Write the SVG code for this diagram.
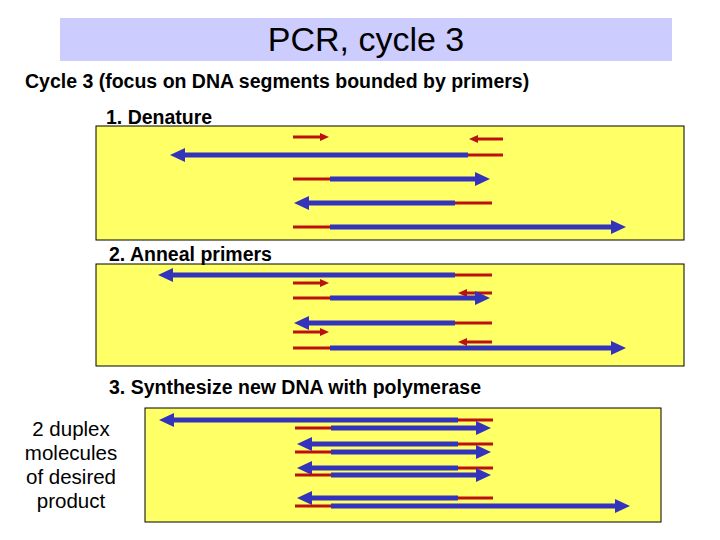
<svg xmlns="http://www.w3.org/2000/svg" width="720" height="540" viewBox="0 0 720 540">
<style>
text{font-family:"Liberation Sans",Arial,sans-serif;fill:#000}
.b{stroke:#3333bb;stroke-width:5;fill:none}
.r{stroke:#bb1111;stroke-width:3;fill:none}
.ba{marker-end:url(#hb)}
.ra{marker-end:url(#hr)}
.panel{fill:#ffff66;stroke:#000;stroke-width:1}
.lbl{font-size:19.5px;font-weight:bold}
</style>
<defs>
<marker id="hb" markerUnits="userSpaceOnUse" markerWidth="16" markerHeight="16" refX="2" refY="8" orient="auto" viewBox="0 0 16 16"><path d="M0,1 L15,8 L0,15 Z" fill="#3333bb"/></marker>
<marker id="hr" markerUnits="userSpaceOnUse" markerWidth="10" markerHeight="8" refX="2" refY="4" orient="auto" viewBox="0 0 10 8"><path d="M0,0 L9,4 L0,8 Z" fill="#bb1111"/></marker>
</defs>
<rect x="0" y="0" width="720" height="540" fill="#fff"/>
<g id="title"><rect x="60" y="18" width="612" height="43" fill="#ccccff"/><text x="366" y="51" font-size="34" text-anchor="middle">PCR, cycle 3</text></g>
<text x="25" y="88" class="lbl">Cycle 3 (focus on DNA segments bounded by primers)</text>
<g id="panel1"><rect class="panel" x="96" y="126" width="588" height="114"/><text x="106" y="124" class="lbl">1. Denature</text></g>
<g id="panel2"><rect class="panel" x="96" y="264" width="588" height="102"/><text x="109" y="261" class="lbl">2. Anneal primers</text></g>
<g id="panel3"><rect class="panel" x="145" y="408" width="516" height="114"/><text x="109" y="394" class="lbl">3. Synthesize new DNA with polymerase</text></g>
<g id="note"><text font-size="20.5" text-anchor="middle"><tspan x="71" y="436">2 duplex</tspan><tspan x="71" y="460">molecules</tspan><tspan x="71" y="484">of desired</tspan><tspan x="71" y="508">product</tspan></text></g>
<g id="connectors">
<line class="r ra" x1="293" y1="137" x2="322" y2="137"/>
<line class="r ra" x1="503" y1="139" x2="476" y2="139"/>
<line class="b ba" x1="468" y1="155" x2="183" y2="155"/>
<line class="r" x1="468" y1="155" x2="503" y2="155"/>
<line class="r" x1="293" y1="179" x2="330" y2="179"/>
<line class="b ba" x1="330" y1="179" x2="477" y2="179"/>
<line class="b ba" x1="455" y1="203" x2="307" y2="203"/>
<line class="r" x1="455" y1="203" x2="492" y2="203"/>
<line class="r" x1="293" y1="227" x2="330" y2="227"/>
<line class="b ba" x1="330" y1="227" x2="613" y2="227"/>
<line class="b ba" x1="455" y1="275" x2="171" y2="275"/>
<line class="r" x1="455" y1="275" x2="492" y2="275"/>
<line class="r ra" x1="293" y1="283" x2="322" y2="283"/>
<line class="r ra" x1="492" y1="293" x2="465" y2="293"/>
<line class="r" x1="293" y1="298" x2="330" y2="298"/>
<line class="b ba" x1="330" y1="298" x2="477" y2="298"/>
<line class="b ba" x1="455" y1="323" x2="307" y2="323"/>
<line class="r" x1="455" y1="323" x2="492" y2="323"/>
<line class="r ra" x1="293" y1="332" x2="322" y2="332"/>
<line class="r ra" x1="492" y1="342" x2="465" y2="342"/>
<line class="r" x1="293" y1="348" x2="330" y2="348"/>
<line class="b ba" x1="330" y1="348" x2="613" y2="348"/>
<line class="b ba" x1="458" y1="420" x2="172" y2="420"/>
<line class="r" x1="458" y1="420" x2="493" y2="420"/>
<line class="r" x1="295" y1="428" x2="331" y2="428"/>
<line class="b ba" x1="331" y1="428" x2="478" y2="428"/>
<line class="b ba" x1="458" y1="444" x2="310" y2="444"/>
<line class="r" x1="458" y1="444" x2="493" y2="444"/>
<line class="r" x1="295" y1="452" x2="331" y2="452"/>
<line class="b ba" x1="331" y1="452" x2="478" y2="452"/>
<line class="b ba" x1="458" y1="468" x2="310" y2="468"/>
<line class="r" x1="458" y1="468" x2="493" y2="468"/>
<line class="r" x1="295" y1="475" x2="331" y2="475"/>
<line class="b ba" x1="331" y1="475" x2="478" y2="475"/>
<line class="b ba" x1="458" y1="498" x2="310" y2="498"/>
<line class="r" x1="458" y1="498" x2="493" y2="498"/>
<line class="r" x1="295" y1="506" x2="331" y2="506"/>
<line class="b ba" x1="331" y1="506" x2="617" y2="506"/>
</g>
</svg>
